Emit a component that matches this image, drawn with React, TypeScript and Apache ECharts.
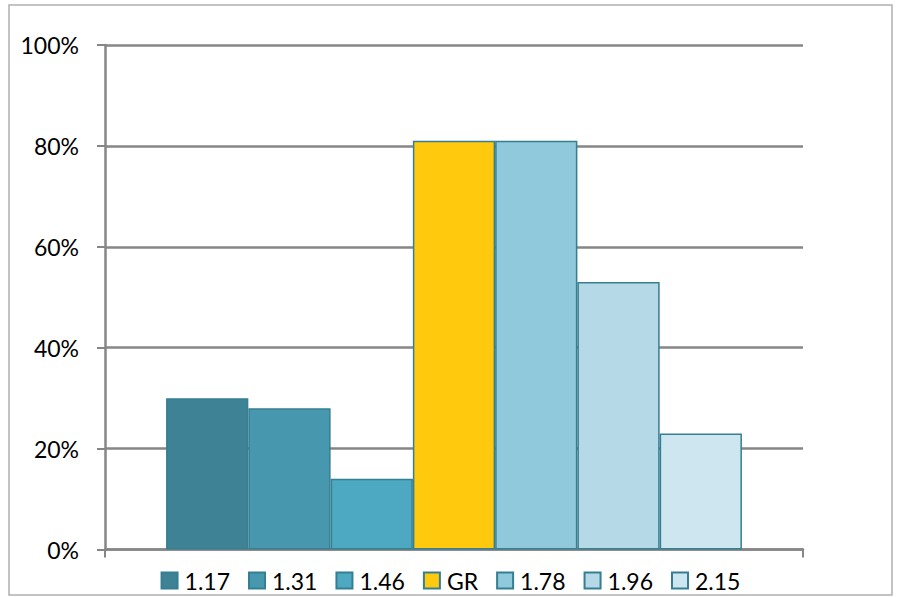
import React, { useEffect, useRef } from "react";
import * as echarts from "echarts";

const seriesNames = ["1.17", "1.31", "1.46", "GR", "1.78", "1.96", "2.15"];
const seriesValues = [30, 28, 14, 81, 81, 53, 23];
const seriesColors = ["#3E8296", "#4798AE", "#4DA8C2", "#FFC90E", "#90C9DB", "#B5D9E7", "#CEE6EF"];
const categories = [""];
const yTicks = { min: 0, max: 100, interval: 20 };

export default function App() {
  const ref = useRef<HTMLDivElement>(null);
  useEffect(() => {
    if (!ref.current) return;
    const chart = echarts.init(ref.current, null, { renderer: "svg" });
    const font = "Lato";
    const gray = "#868686";
    chart.setOption({
      animation: false,
      backgroundColor: "#ffffff",
      textStyle: { fontFamily: font },
      graphic: [
        {
          type: "rect",
          shape: { x: 9, y: 5, width: 883, height: 590 },
          style: { fill: "none", stroke: "#B0B0B0", lineWidth: 1.5 },
          silent: true,
        },
      ],
      grid: { left: 105, right: 98, top: 45, bottom: 47.5, containLabel: false },
      legend: {
        left: "center",
        top: 564,
        icon: "rect",
        itemWidth: 16,
        itemHeight: 16,
        itemGap: 18,
        textStyle: { fontFamily: font, fontSize: 23, color: "#000", padding: [0, 0, 0, 2] },
        data: seriesNames,
      },
      xAxis: {
        type: "category",
        data: categories,
        axisLine: { show: true, lineStyle: { color: gray, width: 2.5 } },
        axisTick: { show: true, length: 8, lineStyle: { color: gray, width: 2 } },
        axisLabel: { show: false },
        splitLine: { show: false },
      },
      yAxis: {
        type: "value",
        min: yTicks.min,
        max: yTicks.max,
        interval: yTicks.interval,
        axisLine: { show: true, lineStyle: { color: gray, width: 2.5 } },
        axisTick: { show: true, length: 8, lineStyle: { color: gray, width: 2 } },
        axisLabel: {
          formatter: "{value}%",
          fontFamily: font,
          fontSize: 23,
          color: "#000",
          margin: 26,
        },
        splitLine: {
          show: true,
          lineStyle: { color: gray, width: 2.5 },
        },
      },
      series: seriesNames.map((name, i) => ({
        name,
        type: "bar",
        data: [seriesValues[i]],
        barGap: "0%",
        barCategoryGap: "17.5%",
        itemStyle: {
          color: seriesColors[i],
          borderColor: "#367E92",
          borderWidth: 1.5,
        },
      })),
    });
    return () => chart.dispose();
  }, []);
  return (
    <div
      ref={ref}
      style={{ position: "fixed", left: 0, top: 0, width: 901, height: 597 }}
    />
  );
}
